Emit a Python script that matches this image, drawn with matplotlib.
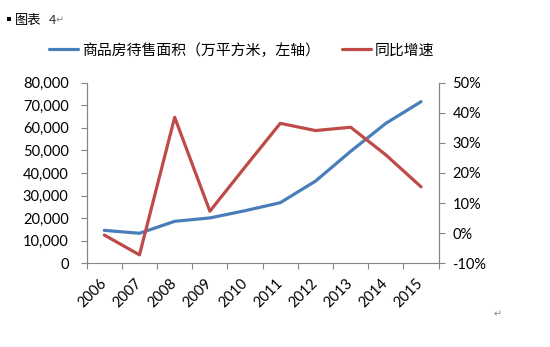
import matplotlib
matplotlib.use("Agg")
import matplotlib.pyplot as plt
from matplotlib.ticker import FixedLocator, FuncFormatter
from matplotlib.patches import Rectangle
import numpy as np

years = ["2006", "2007", "2008", "2009", "2010", "2011", "2012", "2013", "2014", "2015"]
unsold_area = [14600, 13300, 18600, 20100, 23300, 26850, 36400, 49600, 62000, 71600]
yoy_growth = [-0.6, -7.2, 38.5, 7.3, 22.0, 36.5, 34.1, 35.2, 26.0, 15.4]
left_ticks = [0, 10000, 20000, 30000, 40000, 50000, 60000, 70000, 80000]
right_ticks = [-10, 0, 10, 20, 30, 40, 50]
legend_labels = ["商品房待售面积（万平方米，左轴）", "同比增速"]
caption = "图表"
caption_num = "4"

plt.rcParams['font.family'] = ['Lato', 'Noto Sans CJK SC', 'DejaVu Sans']
cjk = ['Noto Sans CJK SC', 'DejaVu Sans']

fig = plt.figure(figsize=(5.5, 3.47), dpi=100)
ax = fig.add_axes([0.1576, 0.2412, 0.64, 0.5205])
ax2 = ax.twinx()

blue = '#4A7EBB'
red = '#BE4B48'
grey = '#868686'

x = np.arange(len(years))
l1, = ax.plot(x, unsold_area, color=blue, lw=2.3, solid_capstyle='round', zorder=3)
l2, = ax2.plot(x, yoy_growth, color=red, lw=2.3, solid_capstyle='round', zorder=3)

ax.set_xlim(-0.5, len(years) - 0.5)
ax.set_ylim(0, 80000)
ax2.set_ylim(-10, 50)
ax.yaxis.set_major_locator(FixedLocator(left_ticks))
ax.yaxis.set_major_formatter(FuncFormatter(lambda v, p: f"{int(v):,}"))
ax2.yaxis.set_major_locator(FixedLocator(right_ticks))
ax2.yaxis.set_major_formatter(FuncFormatter(lambda v, p: f"{int(v)}%"))

ax.xaxis.set_major_locator(FixedLocator(np.arange(-0.5, len(years), 1.0)))
ax.xaxis.set_major_formatter(FuncFormatter(lambda v, p: ""))
ax.set_xticks(x, minor=True)
ax.set_xticklabels(years, minor=True, rotation=45, ha='right', va='center',
                   rotation_mode='anchor', fontsize=10.5)
ax.tick_params(axis='x', which='minor', length=0, pad=13)
ax.tick_params(axis='x', which='major', length=4, color=grey, direction='out')

for a in (ax, ax2):
    for s in a.spines.values():
        s.set_color(grey)
    a.spines['top'].set_visible(False)
ax2.spines['bottom'].set_visible(False)
ax.tick_params(axis='y', length=4, color=grey, labelsize=10.5, pad=9)
ax2.tick_params(axis='y', length=4, color=grey, labelsize=10.5, pad=6)

# legend
leg = fig.legend([l1, l2], legend_labels, loc='center', bbox_to_anchor=(0.44, 0.855),
                 ncol=2, frameon=False, prop={'family': cjk, 'size': 10.7},
                 handlelength=1.9, handletextpad=0.3, columnspacing=1.5)

# caption
W, H = 550, 347
fig.patches.append(Rectangle((7 / W, 1 - 21 / H), 4 / W, 4 / H, transform=fig.transFigure,
                             facecolor='black', edgecolor='none'))
fig.text(15 / W, 1 - 20 / H, caption, fontsize=9.5, family=cjk, va='center', ha='left')
fig.text(49 / W, 1 - 20 / H, caption_num, fontsize=9.5, family=cjk, va='center', ha='left', color='#333333')
fig.text(56 / W, 1 - 20 / H, "↵", fontsize=7, family=['DejaVu Sans'], va='center', ha='left', color='#888888')
fig.text(494 / W, 1 - 314 / H, "↵", fontsize=7, family=['DejaVu Sans'], va='center', ha='left', color='#888888')

fig.savefig("out.png", dpi=100)
